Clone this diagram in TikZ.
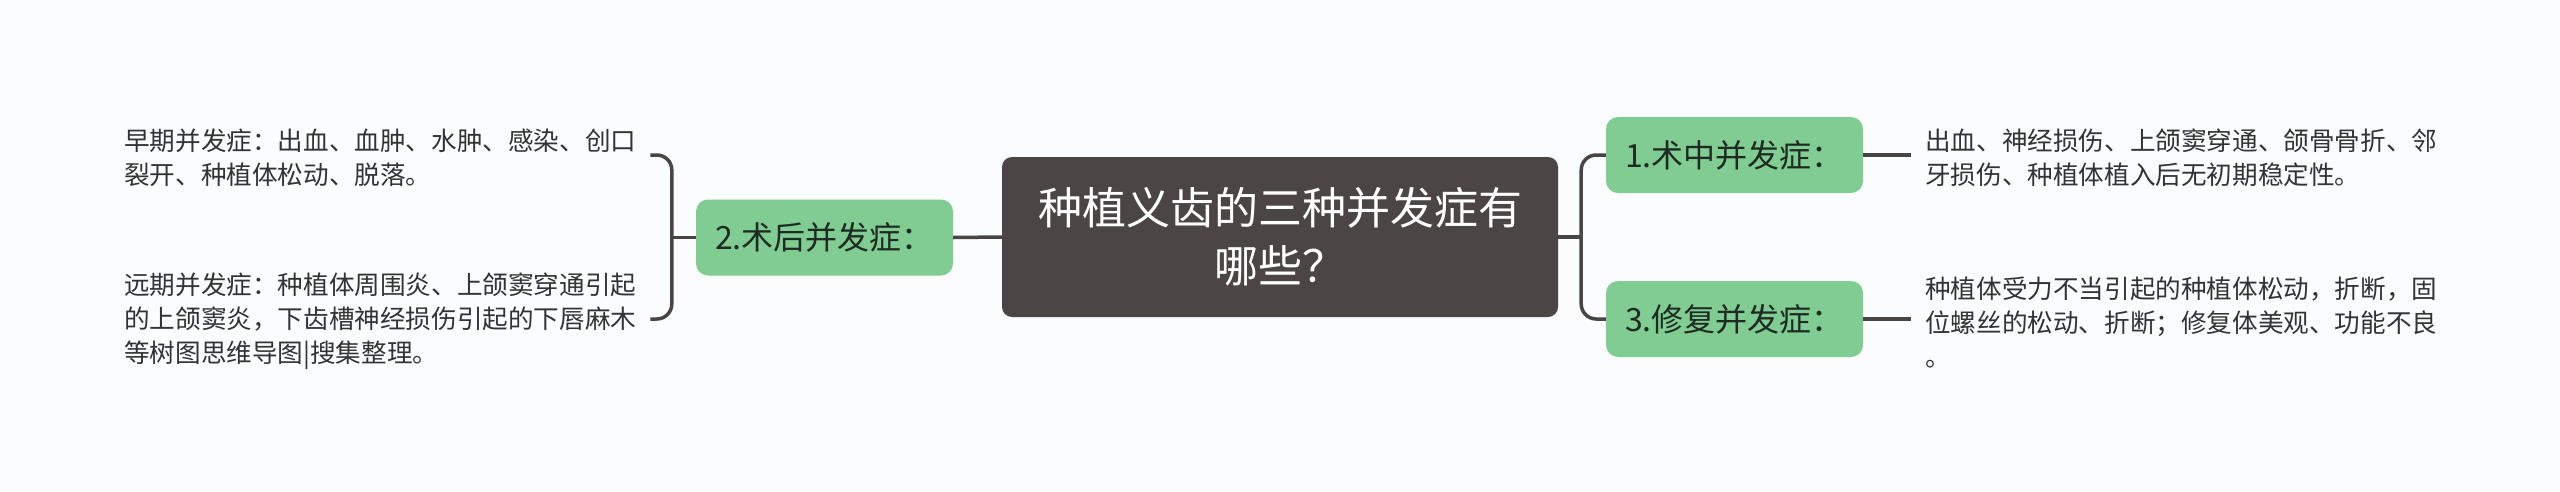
\documentclass[tikz,border=0pt]{standalone}
\usepackage{fontspec}
\setmainfont{Noto Sans CJK SC}
\usetikzlibrary{calc}
\definecolor{bg}{HTML}{FAFCFD}
\definecolor{rootc}{HTML}{4B4645}
\definecolor{greenc}{HTML}{80CC92}
\definecolor{linec}{HTML}{4A4545}
\definecolor{txtc}{HTML}{333333}
\definecolor{lbltxt}{HTML}{1E2B22}
\begin{document}
\begin{tikzpicture}[x=1pt,y=-1pt,
 rootbox/.style={fill=rootc, rounded corners=10pt, minimum width=556pt, minimum height=160pt, text=white, align=center, font=\fontsize{44}{58}\selectfont, inner sep=0pt},
 subbox/.style={fill=greenc, rounded corners=12pt, minimum width=257pt, minimum height=76pt, text=lbltxt, font=\fontsize{32}{40}\selectfont, inner sep=0pt},
 leaf/.style={text=txtc, align=left, font=\fontsize{25.6}{34}\selectfont, inner sep=0pt, text width=513pt},
 conn/.style={draw=linec, line width=3.5pt, rounded corners=15pt},
]
\fill[bg] (0,0) rectangle (2560,491);
\useasboundingbox (0,0) rectangle (2560,491);
\node[rootbox] (root) at (1280,237) {种植义齿的三种并发症有\\哪些？};
\node[subbox] (b2) at (824.5,237.5) {2.术后并发症：};
\node[subbox] (b1) at (1734.5,155) {1.术中并发症：};
\node[subbox] (b3) at (1734.5,319) {3.修复并发症：};
\node[leaf, anchor=west] (t21) at (124,158) {早期并发症：出血、血肿、水肿、感染、创口\\裂开、种植体松动、脱落。};
\node[leaf, anchor=west] (t22) at (124,321) {远期并发症：种植体周围炎、上颌窦穿通引起\\的上颌窦炎，下齿槽神经损伤引起的下唇麻木\\等树图思维导图|搜集整理。};
\node[leaf, anchor=west] (t1) at (1925,158) {出血、神经损伤、上颌窦穿通、颌骨骨折、邻\\牙损伤、种植体植入后无初期稳定性。};
\node[leaf, anchor=west] (t3) at (1925,322) {种植体受力不当引起的种植体松动，折断，固\\位螺丝的松动、折断；修复体美观、功能不良\\。};
% connectors
\draw[conn] (root.west) -- (b2.east);
\coordinate (lj) at ($(b2.west)+(-24,0)$);
\draw[conn] (b2.west) -- (lj);
\draw[conn] ([xshift=13pt,yshift=3pt]t21.east) -| (lj) |- ([xshift=13pt,yshift=2pt]t22.east);
\coordinate (rj) at ($(root.east)+(23,0)$);
\draw[conn] (root.east) -- (rj);
\draw[conn] (b1.west) -| (rj) |- (b3.west);
\draw[conn] (b1.east) -- ([xshift=-14pt,yshift=3pt]t1.west);
\draw[conn] (b3.east) -- ([xshift=-14pt,yshift=3pt]t3.west);
\end{tikzpicture}
\end{document}
